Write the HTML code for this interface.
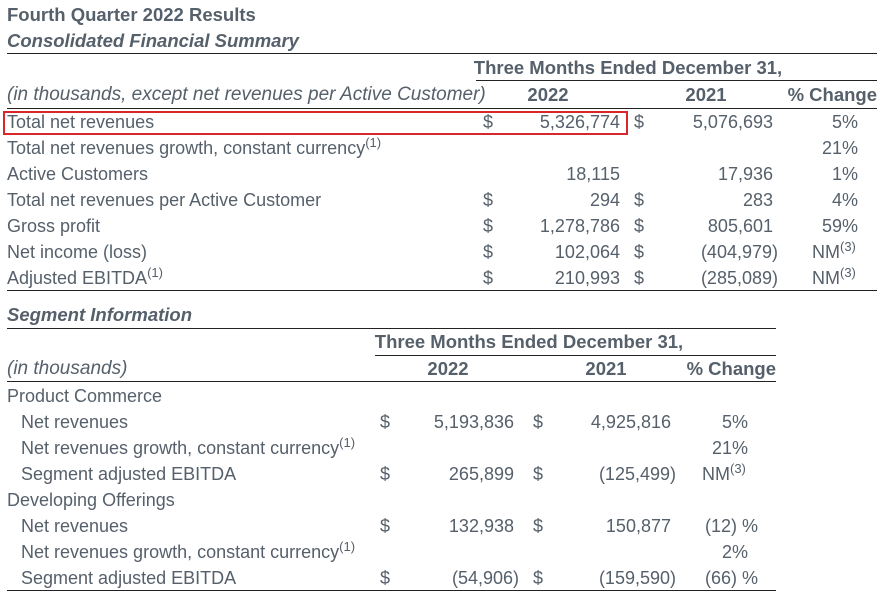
<!DOCTYPE html>
<html><head><meta charset="utf-8">
<style>
body{margin:0;width:888px;height:597px;background:#fff;overflow:hidden;position:relative;font-family:"Liberation Sans",sans-serif;color:#56606b;}
.t{position:absolute;white-space:nowrap;font-size:18px;line-height:20px;}
.b{font-weight:bold;}
.i{font-style:italic;}
.r{text-align:right;}
.c{text-align:center;}
.hl{position:absolute;height:1px;background:#222;}
sup{font-size:13px;line-height:0;vertical-align:7px;}
</style></head><body>
<div class="t b" style="left:7px;top:5px;font-size:18.5px;">Fourth Quarter 2022 Results</div>
<div class="t b i" style="left:7px;top:31px;font-size:18.5px;">Consolidated Financial Summary</div>
<div class="hl" style="left:7px;top:53px;width:870px;"></div>
<div class="t b c" style="left:466px;top:58px;width:324px;font-size:18.5px;">Three Months Ended December 31,</div>
<div class="hl" style="left:476px;top:80px;width:401px;"></div>
<div class="t i" style="left:7px;top:85px;font-size:19px;">(in thousands, except net revenues per Active Customer)</div>
<div class="t b c" style="left:508px;top:85px;width:80px;font-size:18.5px;">2022</div>
<div class="t b c" style="left:666px;top:85px;width:80px;font-size:18.5px;">2021</div>
<div class="t b r" style="left:757px;top:85px;width:120px;font-size:18.5px;">% Change</div>
<div class="hl" style="left:7px;top:108px;width:870px;"></div>
<div style="position:absolute;left:3px;top:111px;width:621px;height:20px;border:2px solid #d9262b;"></div>
<div class="hl" style="left:7px;top:290px;width:870px;"></div>

<div class="t b i" style="left:7px;top:305px;font-size:18.5px;">Segment Information</div>
<div class="hl" style="left:7px;top:328px;width:769px;"></div>
<div class="t b c" style="left:365px;top:332px;width:328px;font-size:18.5px;">Three Months Ended December 31,</div>
<div class="hl" style="left:375px;top:355px;width:401px;"></div>
<div class="t i" style="left:7px;top:359px;font-size:19px;">(in thousands)</div>
<div class="t b c" style="left:408px;top:359px;width:80px;font-size:18.5px;">2022</div>
<div class="t b c" style="left:566px;top:359px;width:80px;font-size:18.5px;">2021</div>
<div class="t b r" style="left:656px;top:359px;width:120px;font-size:18.5px;">% Change</div>
<div class="hl" style="left:7px;top:381px;width:769px;"></div>
<div class="hl" style="left:7px;top:590px;width:769px;"></div>

<script>
const topLabels=["Total net revenues","Total net revenues growth, constant currency<sup>(1)</sup>","Active Customers","Total net revenues per Active Customer","Gross profit","Net income (loss)","Adjusted EBITDA<sup>(1)</sup>"];
const topDollar=[1,0,0,1,1,1,1];
const top2022=["5,326,774","","18,115","294","1,278,786","102,064","210,993"];
const top2021=["5,076,693","","17,936","283","805,601","(404,979)","(285,089)"];
const topChg=["5%","21%","1%","4%","59%","NM<sup>(3)</sup>","NM<sup>(3)</sup>"];

const segLabels=["Product Commerce","Net revenues","Net revenues growth, constant currency<sup>(1)</sup>","Segment adjusted EBITDA","Developing Offerings","Net revenues","Net revenues growth, constant currency<sup>(1)</sup>","Segment adjusted EBITDA"];
const segIndent=[0,1,1,1,0,1,1,1];
const segDollar=[0,1,0,1,0,1,0,1];
const seg2022=["","5,193,836","","265,899","","132,938","","(54,906)"];
const seg2021=["","4,925,816","","(125,499)","","150,877","","(159,590)"];
const segChg=["","5%","21%","NM<sup>(3)</sup>","","(12) %","2%","(66) %"];

function add(html,cls,style,name){
  const d=document.createElement('div');
  d.className='t '+cls;
  d.innerHTML=html;
  d.style.cssText=style;
  
  
  document.body.appendChild(d);
}
function pad(v){return v.endsWith(')')?v:v+'&nbsp;';}
topLabels.forEach((l,i)=>{
  const y=112+i*26;
  add(l,'','left:7px;top:'+y+'px;','summary-row-label');
  if(topDollar[i]){
    add('$','','left:483px;top:'+y+'px;','summary-dollar-2022');
    add('$','','left:634px;top:'+y+'px;','summary-dollar-2021');
  }
  if(top2022[i])add(pad(top2022[i]),'r','left:495px;width:130px;top:'+y+'px;','summary-value-2022');
  if(top2021[i])add(pad(top2021[i]),'r','left:645px;width:133px;top:'+y+'px;','summary-value-2021');
  const nm=topChg[i].startsWith('NM');
  add(topChg[i],nm?'':'r',nm?'left:812px;top:'+y+'px;':'left:790px;width:68px;top:'+y+'px;','summary-change');
});
segLabels.forEach((l,i)=>{
  const y=386+i*26;
  add(l,'','left:'+(segIndent[i]?21:7)+'px;top:'+y+'px;','segment-row-label');
  if(segDollar[i]){
    add('$','','left:380px;top:'+y+'px;','segment-dollar-2022');
    add('$','','left:533px;top:'+y+'px;','segment-dollar-2021');
  }
  if(seg2022[i])add(pad(seg2022[i]),'r','left:395px;width:124px;top:'+y+'px;','segment-value-2022');
  if(seg2021[i])add(pad(seg2021[i]),'r','left:545px;width:131px;top:'+y+'px;','segment-value-2021');
  const c=segChg[i];
  if(c){
    if(c.startsWith('NM'))add(c,'','left:702px;top:'+y+'px;','segment-change');
    else if(c.startsWith('('))add(c,'r','left:680px;width:78px;top:'+y+'px;','segment-change');
    else add(c,'r','left:680px;width:68px;top:'+y+'px;','segment-change');
  }
});
</script>
</body></html>
